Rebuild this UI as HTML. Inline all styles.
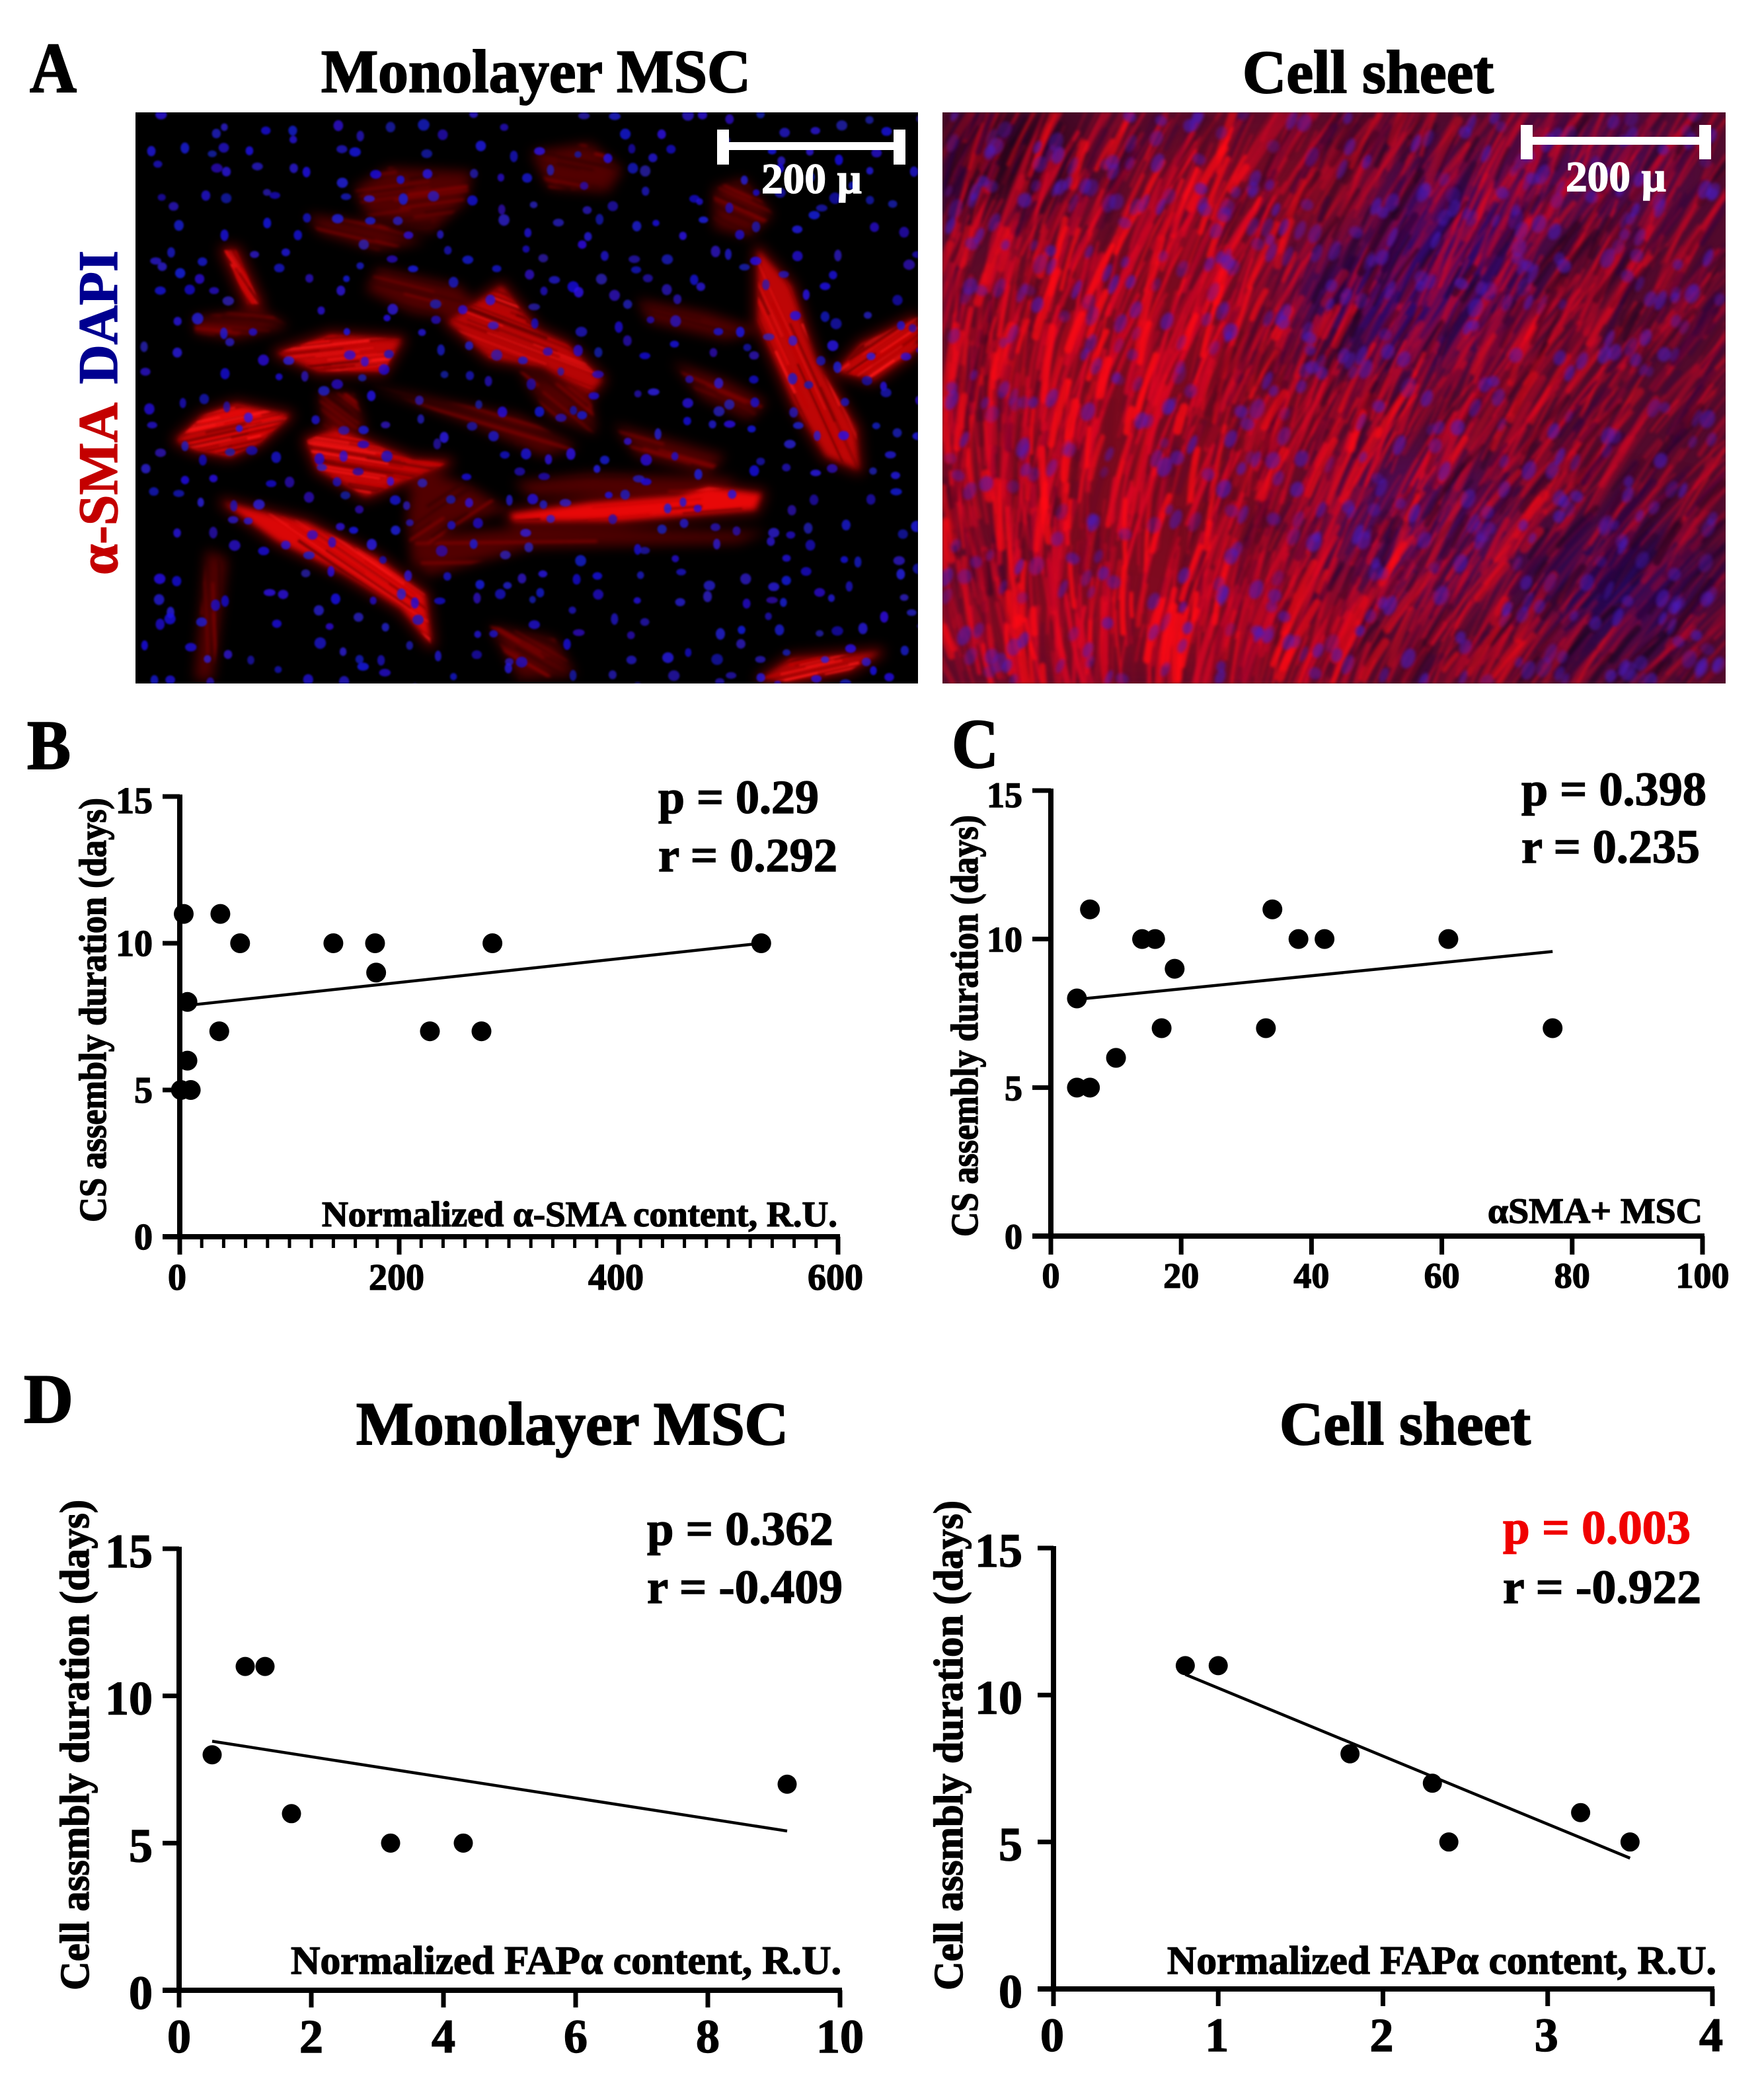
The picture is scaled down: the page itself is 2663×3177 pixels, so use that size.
<!DOCTYPE html>
<html lang="en">
<head>
<meta charset="utf-8">
<title>Cell sheet and monolayer MSC correlation figure</title>
<style>
html,body{margin:0;padding:0;background:#fff;}
body{position:relative;width:2663px;height:3177px;overflow:hidden;}
canvas{position:absolute;display:block;}
svg{position:absolute;left:0;top:0;display:block;}
text{font-family:"Liberation Serif","DejaVu Serif",serif;font-weight:bold;fill:#000;stroke:#000;stroke-width:1.4px;}
</style>
</head>
<body>
<canvas id="imgA1" width="1184" height="864" style="left:205px;top:170px"></canvas>
<canvas id="imgA2" width="1185" height="864" style="left:1426px;top:170px"></canvas>

<svg id="figure" xmlns="http://www.w3.org/2000/svg" width="2663" height="3177" viewBox="0 0 2663 3177">
<text x="45" y="139" font-size="108" textLength="71" lengthAdjust="spacingAndGlyphs" style="stroke-width:2px">A</text>
<text x="41" y="1163" font-size="106" textLength="66" lengthAdjust="spacingAndGlyphs" style="stroke-width:2px">B</text>
<text x="1440" y="1161" font-size="106" textLength="71" lengthAdjust="spacingAndGlyphs" style="stroke-width:2px">C</text>
<text x="36" y="2152" font-size="106" textLength="75" lengthAdjust="spacingAndGlyphs" style="stroke-width:2px">D</text>

<text x="486" y="139" font-size="92" textLength="650" lengthAdjust="spacingAndGlyphs" style="stroke-width:2px">Monolayer MSC</text>
<text x="1880" y="140" font-size="92" textLength="380" lengthAdjust="spacingAndGlyphs" style="stroke-width:2px">Cell sheet</text>

<text transform="translate(177,870) rotate(-90)" font-size="85" textLength="261" lengthAdjust="spacingAndGlyphs" style="fill:#c40000;stroke:#c40000">α-SMA</text>
<text transform="translate(177,581) rotate(-90)" font-size="85" textLength="202" lengthAdjust="spacingAndGlyphs" style="fill:#000090;stroke:#000090">DAPI</text>

<g fill="#fff">
<rect x="1085" y="215" width="285" height="12"/>
<rect x="1085" y="196" width="18" height="53"/>
<rect x="1352" y="196" width="18" height="53"/>
<text x="1152" y="292" font-size="65" textLength="152" lengthAdjust="spacingAndGlyphs" style="fill:#fff;stroke:#fff">200 µ</text>
</g>
<g fill="#fff">
<rect x="2301" y="207" width="288" height="12"/>
<rect x="2301" y="189" width="18" height="52"/>
<rect x="2571" y="189" width="18" height="52"/>
<text x="2369" y="289" font-size="65" textLength="152" lengthAdjust="spacingAndGlyphs" style="fill:#fff;stroke:#fff">200 µ</text>
</g>

<g id="chartB"></g>
<g id="chartC"></g>
<g id="chartD1"></g>
<g id="chartD2"></g>

<text transform="translate(160,1849) rotate(-90)" font-size="58" textLength="642" lengthAdjust="spacingAndGlyphs">CS assembly duration (days)</text>
<text x="487" y="1855" font-size="54" textLength="780" lengthAdjust="spacingAndGlyphs">Normalized α-SMA content, R.U.</text>
<text x="996" y="1230" font-size="72" textLength="243" lengthAdjust="spacingAndGlyphs">p = 0.29</text>
<text x="996" y="1318" font-size="72" textLength="271" lengthAdjust="spacingAndGlyphs">r = 0.292</text>

<text transform="translate(1479,1871) rotate(-90)" font-size="58" textLength="638" lengthAdjust="spacingAndGlyphs">CS assembly duration (days)</text>
<text x="2251" y="1850" font-size="54" textLength="325" lengthAdjust="spacingAndGlyphs">αSMA+ MSC</text>
<text x="2302" y="1218" font-size="72" textLength="280" lengthAdjust="spacingAndGlyphs">p = 0.398</text>
<text x="2302" y="1305" font-size="72" textLength="270" lengthAdjust="spacingAndGlyphs">r = 0.235</text>

<text x="539" y="2185" font-size="92" textLength="654" lengthAdjust="spacingAndGlyphs" style="stroke-width:2px">Monolayer MSC</text>
<text transform="translate(134,3011) rotate(-90)" font-size="62" textLength="742" lengthAdjust="spacingAndGlyphs">Cell assmbly duration (days)</text>
<text x="440" y="2986" font-size="60" textLength="833" lengthAdjust="spacingAndGlyphs">Normalized FAPα content, R.U.</text>
<text x="979" y="2337" font-size="72" textLength="282" lengthAdjust="spacingAndGlyphs">p = 0.362</text>
<text x="979" y="2425" font-size="72" textLength="296" lengthAdjust="spacingAndGlyphs">r = -0.409</text>

<text x="1936" y="2185" font-size="92" textLength="380" lengthAdjust="spacingAndGlyphs" style="stroke-width:2px">Cell sheet</text>
<text transform="translate(1456,3011) rotate(-90)" font-size="62" textLength="741" lengthAdjust="spacingAndGlyphs">Cell assmbly duration (days)</text>
<text x="1766" y="2986" font-size="60" textLength="831" lengthAdjust="spacingAndGlyphs">Normalized FAPα content, R.U.</text>
<text x="2274" y="2335" font-size="72" textLength="284" lengthAdjust="spacingAndGlyphs" style="fill:#f00000;stroke:#f00000">p = 0.003</text>
<text x="2274" y="2425" font-size="72" textLength="300" lengthAdjust="spacingAndGlyphs">r = -0.922</text>
</svg>

<script>
// ---- chart data ----
const yTickLabels = [0, 5, 10, 15];

const bXTicks = [0, 200, 400, 600];
const bPointsX = [3.6, 37, 55, 140, 178, 285, 530, 179, 7, 36, 228, 275, 7, 1, 10];
const bPointsY = [11, 11, 10, 10, 10, 10, 10, 9, 8, 7, 7, 7, 6, 5, 5];
const bLineX = [4, 530];
const bLineY = [7.87, 10];

const cXTicks = [0, 20, 40, 60, 80, 100];
const cPointsX = [6, 34, 14, 16, 38, 42, 61, 19, 4, 17, 33, 77, 10, 4, 6];
const cPointsY = [11, 11, 10, 10, 10, 10, 10, 9, 8, 7, 7, 7, 6, 5, 5];
const cLineX = [4, 77];
const cLineY = [7.97, 9.58];

const d1XTicks = [0, 2, 4, 6, 8, 10];
const d1PointsX = [1.0, 1.3, 0.5, 9.2, 1.7, 3.2, 4.3];
const d1PointsY = [11, 11, 8, 7, 6, 5, 5];
const d1LineX = [0.5, 9.2];
const d1LineY = [8.46, 5.41];

const d2XTicks = [0, 1, 2, 3, 4];
const d2PointsX = [0.8, 1.0, 1.8, 2.3, 2.4, 3.2, 3.5];
const d2PointsY = [11, 11, 8, 7, 5, 6, 5];
const d2LineX = [0.8, 3.5];
const d2LineY = [10.7, 4.45];

const SVGNS = 'http://www.w3.org/2000/svg';
function mk(parent, tag, attrs) {
  const el = document.createElementNS(SVGNS, tag);
  for (const k in attrs) el.setAttribute(k, attrs[k]);
  parent.appendChild(el);
  return el;
}

function drawChart(host, c, xTicks, ptsX, ptsY, lineX, lineY) {
  const sx = v => c.x0 + (v - 0) / c.xMax * (c.x1 - c.x0);
  const sy = v => c.y0 - v / 15 * (c.y0 - c.y15);

  let el = mk(host, 'line', {x1: sx(0), x2: sx(0), y1: c.y15 - 3, y2: c.y0 + 3, stroke: '#000', 'stroke-width': 8});
  
  

  el = mk(host, 'line', {x1: c.tickLeft, x2: c.x1 + 3, y1: c.y0, y2: c.y0, stroke: '#000', 'stroke-width': 8});
  
  

  yTickLabels.forEach(v => {
    const t = mk(host, 'line', {x1: c.tickLeft, x2: sx(0), y1: sy(v), y2: sy(v), stroke: '#000', 'stroke-width': 7});
    
    
    const lab = mk(host, 'text', {x: c.yLabelRight, y: sy(v) + c.yLabelDy + (v === 15 ? c.topDy : 0), 'font-size': c.tickFont, 'text-anchor': 'end'});
    lab.textContent = v;
    
    
  });

  if (c.minorStep) {
    for (let v = 0; v <= c.xMax; v += c.minorStep) {
      const m = mk(host, 'line', {x1: sx(v), x2: sx(v), y1: c.y0, y2: c.y0 + 17, stroke: '#000', 'stroke-width': 5});
      
      
    }
  }

  xTicks.forEach(v => {
    const t = mk(host, 'line', {x1: sx(v), x2: sx(v), y1: c.y0, y2: c.tickBottom, stroke: '#000', 'stroke-width': 7});
    
    
    const lab = mk(host, 'text', {x: sx(v) + c.xLabelDx, y: c.xLabelY, 'font-size': c.tickFont, 'text-anchor': 'middle'});
    lab.textContent = v;
    
    
  });

  const fit = mk(host, 'line', {x1: sx(lineX[0]), y1: sy(lineY[0]), x2: sx(lineX[1]), y2: sy(lineY[1]), stroke: '#000', 'stroke-width': 4.5});
  
  

  ptsX.forEach((v, i) => {
    const p = mk(host, 'circle', {cx: sx(v), cy: sy(ptsY[i]), r: c.r, fill: '#000'});
    
    
  });
}

drawChart(document.getElementById('chartB'),
  {x0: 272, x1: 1268, xMax: 600, y0: 1871, y15: 1205, tickLeft: 246, tickBottom: 1898, yLabelRight: 231, yLabelDy: 19, topDy: 6, xLabelY: 1951, xLabelDx: -4, tickFont: 56, r: 15, minorStep: 20},
  bXTicks, bPointsX, bPointsY, bLineX, bLineY);
drawChart(document.getElementById('chartC'),
  {x0: 1590, x1: 2576, xMax: 100, y0: 1870, y15: 1196, tickLeft: 1562, tickBottom: 1898, yLabelRight: 1547, yLabelDy: 19, topDy: 6, xLabelY: 1948, xLabelDx: 0, tickFont: 54, r: 15, minorStep: 0},
  cXTicks, cPointsX, cPointsY, cLineX, cLineY);
drawChart(document.getElementById('chartD1'),
  {x0: 271, x1: 1271, xMax: 10, y0: 3011, y15: 2343, tickLeft: 246, tickBottom: 3037, yLabelRight: 231, yLabelDy: 28, topDy: 0, xLabelY: 3105, xLabelDx: 0, tickFont: 72, r: 14.5, minorStep: 0},
  d1XTicks, d1PointsX, d1PointsY, d1LineX, d1LineY);
drawChart(document.getElementById('chartD2'),
  {x0: 1594, x1: 2591, xMax: 4, y0: 3009, y15: 2342, tickLeft: 1570, tickBottom: 3035, yLabelRight: 1547, yLabelDy: 28, topDy: 0, xLabelY: 3103, xLabelDx: -2, tickFont: 72, r: 14.5, minorStep: 0},
  d2XTicks, d2PointsX, d2PointsY, d2LineX, d2LineY);

// ---- decorative micrograph textures, painted to canvas (not chart data) ----
let seed = 20240611;
function rnd() {
  seed = (Math.imul(seed, 1664525) + 1013904223) >>> 0;
  return seed / 4294967296;
}
function layer(main, blur, draw) {
  const off = document.createElement('canvas');
  off.width = main.canvas.width;
  off.height = main.canvas.height;
  const o = off.getContext('2d');
  draw(o);
  main.filter = 'blur(' + blur + 'px)';
  main.drawImage(off, 0, 0);
  main.filter = 'none';
}

// Monolayer cell outlines, scaled from the reference crop
const dimCells = [
  [[640,600],[780,640],[830,720],[700,700],[620,650]],
  [[600,420],[660,375],[800,385],[790,450],[730,520],[620,480]],
  [[900,340],[1000,320],[1055,380],[1030,430],[930,420]],
  [[330,710],[440,690],[490,730],[400,760],[330,745]],
  [[1040,950],[1150,990],[1230,1020],[1200,1060],[1080,1020]],
  [[700,1200],[900,1180],[1300,1190],[1250,1215],[900,1225],[720,1290]],
  [[1210,420],[1260,400],[1310,480],[1270,530],[1210,510]],
  [[1080,670],[1200,700],[1290,740],[1230,760],[1100,720]],
  [[1140,810],[1230,850],[1300,900],[1270,940],[1190,890]],
  [[830,1400],[940,1430],[975,1510],[880,1520]],
  [[620,860],[760,900],[880,930],[980,1000],[920,1020],[800,950]],
  [[880,830],[1000,880],[1010,970],[930,930]],
  [[350,1230],[385,1250],[360,1525],[330,1520]],
  [[870,1080],[1000,1060],[1250,1070],[1200,1100],[900,1110]],
  [[540,880],[600,880],[620,960],[550,960]],
  [[520,480],[640,500],[720,540],[640,560],[540,520]],
  [[700,1040],[800,1090],[860,1140],[760,1180],[700,1280],[690,1160]]
];
const brightCells = [
  [[300,985],[345,930],[400,905],[490,930],[440,990],[390,1020],[330,1005]],
  [[520,985],[570,960],[700,1030],[760,1035],[640,1100],[620,1110],[540,1050]],
  [[380,1125],[520,1170],[640,1250],[720,1330],[730,1440],[680,1360],[580,1280],[470,1210]],
  [[865,1150],[1000,1125],[1150,1110],[1200,1090],[1290,1105],[1280,1140],[1050,1165],[870,1165]],
  [[1285,560],[1340,640],[1380,800],[1450,960],[1455,1050],[1400,1020],[1345,900],[1285,720]],
  [[1420,830],[1460,770],[1555,710],[1555,780],[1480,850]],
  [[470,790],[560,750],[680,760],[650,830],[540,830]],
  [[760,720],[850,640],[910,740],[960,770],[1020,850],[1000,880],[920,820],[830,800]],
  [[380,560],[400,560],[440,680],[420,680]],
  [[1290,1520],[1340,1475],[1490,1460],[1440,1500],[1340,1525]]
];
const brightLevel = [0.95, 0.75, 0.9, 1, 0.7, 0.7, 0.75, 0.65, 0.5, 0.6];
const cellPts = cell => cell.map(p => [p[0] / 1.12 - 205, p[1] / 1.479 - 170]);
function tracePoly(o, pts) {
  o.beginPath();
  pts.forEach((p, i) => i ? o.lineTo(p[0], p[1]) : o.moveTo(p[0], p[1]));
  o.closePath();
}
function cellFibres(o, pts, colours, count, wMin, wMax) {
  let best = 0, a = pts[0], b = pts[1];
  pts.forEach(p => pts.forEach(q => {
    const d = (p[0] - q[0]) ** 2 + (p[1] - q[1]) ** 2;
    if (d > best) { best = d; a = p; b = q; }
  }));
  const len = Math.sqrt(best), ux = (b[0] - a[0]) / len, uy = (b[1] - a[1]) / len;
  o.save();
  tracePoly(o, pts);
  o.clip();
  for (let i = 0; i < count; i++) {
    const t = rnd() * len, off = (rnd() - 0.5) * len * 0.9;
    const mx = a[0] + ux * t - uy * off, my = a[1] + uy * t + ux * off;
    const l = 20 + rnd() * len * 0.5;
    o.strokeStyle = colours[Math.floor(rnd() * colours.length)];
    o.globalAlpha = 0.35 + rnd() * 0.5;
    o.lineWidth = wMin + rnd() * (wMax - wMin);
    o.beginPath();
    o.moveTo(mx - ux * l, my - uy * l);
    o.lineTo(mx + ux * l, my + uy * l);
    o.stroke();
  }
  o.restore();
  o.globalAlpha = 1;
}

const ca1 = document.getElementById('imgA1').getContext('2d');
ca1.fillStyle = '#000';
ca1.fillRect(0, 0, 1184, 864);
layer(ca1, 9, o => {
  o.fillStyle = '#520000';
  dimCells.forEach(cell => { tracePoly(o, cellPts(cell)); o.fill(); });
  o.fillStyle = '#5a0000';
  o.strokeStyle = '#5a0000';
  o.lineWidth = 16;
  o.lineJoin = 'round';
  brightCells.forEach(cell => { tracePoly(o, cellPts(cell)); o.fill(); o.stroke(); });
});
layer(ca1, 2, o => {
  dimCells.forEach(cell => cellFibres(o, cellPts(cell), ['#8a0000', '#300000'], 26, 1.5, 5));
});
layer(ca1, 4, o => {
  o.fillStyle = '#e80808';
  brightCells.forEach((cell, i) => {
    o.globalAlpha = brightLevel[i];
    tracePoly(o, cellPts(cell));
    o.fill();
  });
  o.globalAlpha = 1;
});
layer(ca1, 1.5, o => {
  brightCells.forEach(cell => cellFibres(o, cellPts(cell), ['#900000', '#600000', '#ff1a1a', '#c00000'], 90, 1.5, 5));
});
layer(ca1, 1.3, o => {
  for (let gy = 2; gy < 864; gy += 38) {
    for (let gx = 10; gx < 1184; gx += 40) {
      if (rnd() < 0.2) continue;
      o.fillStyle = 'rgba(' + Math.round(20 + rnd() * 30) + ',' + Math.round(10 + rnd() * 25) + ',' + Math.round(170 + rnd() * 70) + ',0.8)';
      o.beginPath();
      o.ellipse(gx + rnd() * 36, gy + rnd() * 34, 5 + rnd() * 4, 5 + rnd() * 4, 0, 0, 6.2832);
      o.fill();
    }
  }
});

// Cell sheet
const tonePatches = [
  [84, 50, 120, 80, '#2a0418'],
  [704, 230, 190, 150, '#30086a'],
  [974, 90, 160, 80, '#4a0a50'],
  [1024, 720, 130, 100, '#24085a'],
  [264, 450, 300, 260, '#7a0a1e'],
  [294, 780, 320, 110, '#800a20'],
  [474, 130, 200, 110, '#740a24'],
  [724, 630, 140, 110, '#4c0c5c']
];
function fibreGain(u, v) {
  const g = (a, b, w, h) => Math.exp(-(((u - a) / w) ** 2 + ((v - b) / h) ** 2));
  let k = 0.52;
  k += 0.4 * g(0.22, 0.55, 0.22, 0.35) + 0.35 * g(0.32, 0.2, 0.18, 0.22);
  k += 0.35 * g(0.25, 0.95, 0.25, 0.18) + 0.25 * g(0.6, 0.55, 0.1, 0.1);
  k -= 0.35 * g(0.52, 0.22, 0.14, 0.16) + 0.35 * g(0.9, 0.88, 0.1, 0.12) + 0.3 * g(0.02, 0.08, 0.08, 0.12);
  return Math.max(0.08, Math.min(1, k));
}
function fibre(o, u, v, len) {
  const theta = (62 + 52 * v * (1 - u) * (1 - u) - 16 * u * v + (rnd() - 0.5) * 18) * Math.PI / 180;
  const cx = u * 1185, cy = v * 864;
  const dx = Math.cos(theta) * len / 2, dy = -Math.sin(theta) * len / 2;
  o.beginPath();
  o.moveTo(cx - dx, cy - dy);
  o.quadraticCurveTo(cx + dy * 0.08, cy - dx * 0.08, cx + dx, cy + dy);
  o.stroke();
}
const ca2 = document.getElementById('imgA2').getContext('2d');
ca2.fillStyle = '#520a2c';
ca2.fillRect(0, 0, 1185, 864);
layer(ca2, 45, o => {
  tonePatches.forEach(t => {
    o.fillStyle = t[4];
    o.beginPath();
    o.ellipse(t[0], t[1], t[2], t[3], 0, 0, 6.2832);
    o.fill();
  });
});
layer(ca2, 2, o => {
  o.lineCap = 'round';
  for (let i = 0; i < 1500; i++) {
    const u = rnd(), v = rnd();
    o.strokeStyle = rnd() < 0.2 ? '#ff0a18' : '#d80624';
    o.lineWidth = 2.5 + rnd() * rnd() * 12;
    o.globalAlpha = fibreGain(u, v) * (0.3 + rnd() * 0.7);
    fibre(o, u, v, 50 + rnd() * 170);
  }
  for (let i = 0; i < 700; i++) {
    const u = rnd(), v = rnd();
    o.strokeStyle = rnd() < 0.5 ? '#2a0240' : '#1c0420';
    o.lineWidth = 3 + rnd() * 10;
    o.globalAlpha = Math.max(0, (1.1 - fibreGain(u, v))) * (0.4 + rnd() * 0.5);
    fibre(o, u, v, 30 + rnd() * 90);
  }
  for (let i = 0; i < 150; i++) {
    const u = rnd() * 0.8, v = rnd();
    o.strokeStyle = '#ff0a14';
    o.lineWidth = 5 + rnd() * 10;
    o.globalAlpha = fibreGain(u, v) * 0.85;
    fibre(o, u, v, 30 + rnd() * 90);
  }
  o.globalAlpha = 1;
});
layer(ca2, 2, o => {
  for (let i = 0; i < 560; i++) {
    o.fillStyle = '#4a1cc0';
    o.globalAlpha = 0.28 + rnd() * 0.32;
    o.beginPath();
    o.ellipse(rnd() * 1185, rnd() * 864, 5 + rnd() * 6, 8 + rnd() * 8, 0.4, 0, 6.2832);
    o.fill();
  }
  o.globalAlpha = 1;
});
</script>
</body>
</html>
